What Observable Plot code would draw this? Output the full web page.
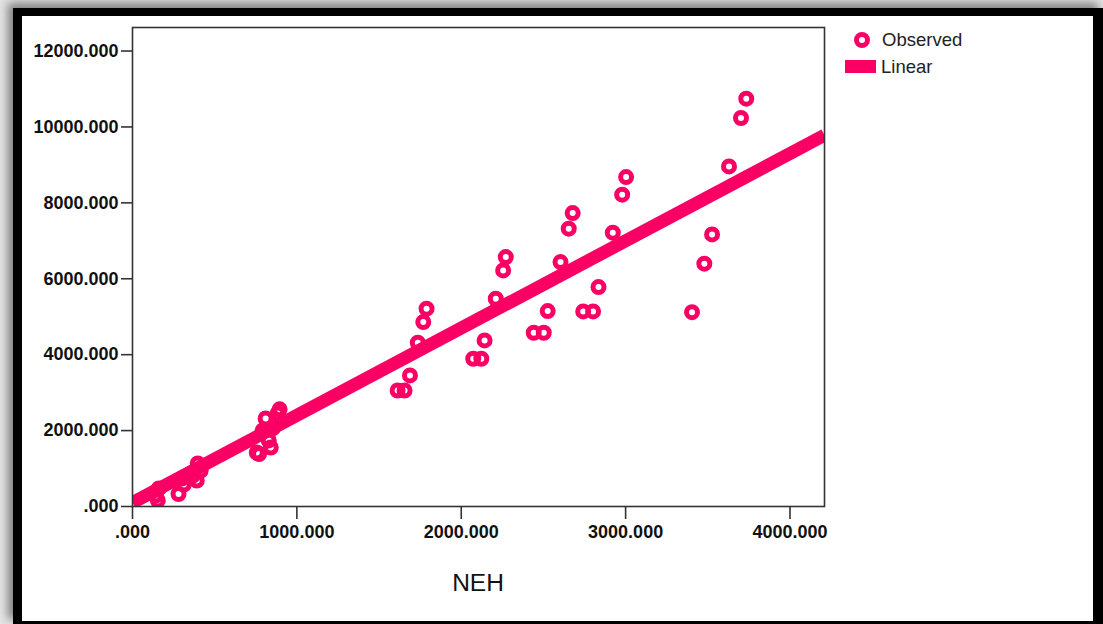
<!DOCTYPE html>
<html><head><meta charset="utf-8">
<script src="https://cdn.jsdelivr.net/npm/d3@7"></script>
<script src="https://cdn.jsdelivr.net/npm/@observablehq/plot@0.6"></script>
<style>
html,body{margin:0;padding:0;width:1103px;height:624px;overflow:hidden;background:#e4e4e4;font-family:"Liberation Sans",Arial,sans-serif;}
#frame{position:absolute;left:13px;top:8px;width:1071px;height:605px;border-left:9px solid #000;border-top:8px solid #000;border-right:10px solid #000;border-bottom:3px solid #000;background:#fff;box-shadow:-5px -5px 9px rgba(0,0,0,0.45);}
#chart{position:absolute;left:0;top:0;}
#chart svg{display:block;}
.leg{position:absolute;font-size:18.5px;color:#222;line-height:1;white-space:nowrap;}
#ring{position:absolute;left:832px;top:16px;width:6px;height:6px;border:5px solid #fa0064;border-radius:50%;}
#bar{position:absolute;left:823px;top:44px;width:31px;height:13px;background:#fa0064;}
#xlabel{position:absolute;left:356px;top:553px;width:200px;text-align:center;font-size:24.5px;color:#111;}
</style></head>
<body>
<div id="frame">
  <div id="chart"></div>
  <div id="ring"></div>
  <div class="leg" style="left:860px;top:15px;">Observed</div>
  <div id="bar"></div>
  <div class="leg" style="left:859px;top:42px;">Linear</div>
  <div id="xlabel">NEH</div>
</div>
<script>
const neh = [3734,3702,3629,3526,3479,3404,3003,2979,2922,2835,2802,2742,2678,2654,2604,2526,2502,2441,2271,2255,2210,2142,2122,2073,1789,1769,1736,1688,1655,1613,895,883,810,792,853,829,841,756,770,397,415,367,300,312,391,160,141,154,280];
const observed = [10746,10235,8961,7169,6397,5121,8680,8216,7214,5780,5140,5140,7731,7319,6439,5148,4578,4578,6571,6220,5474,4375,3893,3893,5211,4858,4315,3453,3057,3057,2560,2450,2320,2003,2056,1740,1555,1423,1380,1133,949,817,738,580,685,474,290,158,330];
// Linear fit
const fitIntercept = 100;
const fitSlope = 2.30;
// Axes
const xTicks = [0,1000,2000,3000,4000];
const yTicks = [0,2000,4000,6000,8000,10000,12000];
const xDomain = [0,4210];
const yDomain = [0,12620];

const pink = "#fa0064";
const fmt = d => d === 0 ? ".000" : d.toFixed(3);
const pts = neh.map((x,i) => ({x, y: observed[i]}));
const fit = xDomain.map(x => ({x, y: fitIntercept + fitSlope * x}));

const chart = Plot.plot({
  width: 1071, height: 605,
  marginLeft: 110, marginRight: 269, marginTop: 11, marginBottom: 115,
  x: {domain: xDomain},
  y: {domain: yDomain},
  style: {fontFamily: '"Liberation Sans", Arial, sans-serif', fontSize: "18px", fontWeight: "bold", color: "#111", background: "transparent"},
  marks: [
    Plot.dot(pts, {x: "x", y: "y", r: 5.5, stroke: pink, strokeWidth: 5, fill: "none", clip: true}),
    Plot.line(fit, {x: "x", y: "y", stroke: pink, strokeWidth: 13, strokeLinecap: "butt", clip: true}),
    Plot.frame({stroke: "#333", strokeWidth: 1.6}),
    Plot.axisX({ticks: xTicks, tickFormat: fmt, tickSize: 13, tickPadding: 6, label: null, stroke: "#333", strokeWidth: 1.6, fontSize: 18, fontWeight: "bold"}),
    Plot.axisY({ticks: yTicks, tickFormat: fmt, tickSize: 11, tickPadding: 3, label: null, stroke: "#333", strokeWidth: 1.6, fontSize: 18, fontWeight: "bold"})
  ]
});
document.getElementById("chart").appendChild(chart);
</script>
</body></html>
